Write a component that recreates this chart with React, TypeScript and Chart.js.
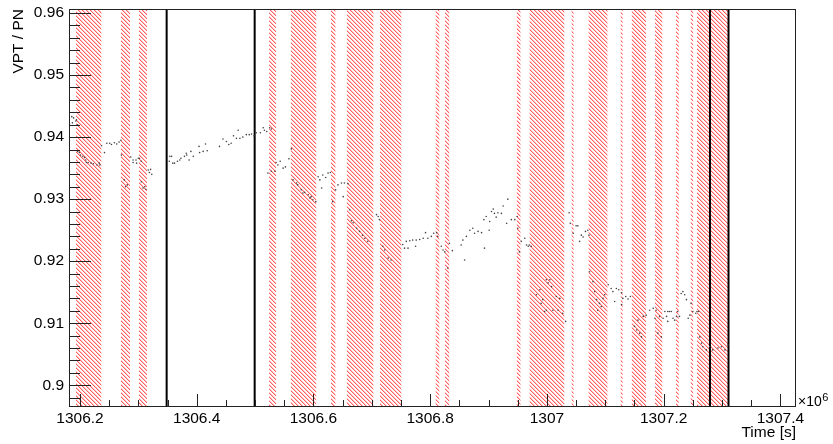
import { useEffect, useRef } from 'react';
import { Chart, registerables } from 'chart.js';

Chart.register(...registerables);

// Axis ranges (time in units of 10^6 s)
const X_MIN = 1306.1812;
const X_MAX = 1307.4267;
const Y_MIN = 0.89666;
const Y_MAX = 0.96065;

const xMajorTicks = [1306.2, 1306.4, 1306.6, 1306.8, 1307.0, 1307.2, 1307.4];
const yMajorTicks = [0.9, 0.91, 0.92, 0.93, 0.94, 0.95, 0.96];
const X_MINOR_STEP = 0.05;
const Y_MINOR_STEP = 0.002;

// Hatched (excluded) time intervals
const bandStarts = [1306.193, 1306.270, 1306.301, 1306.524, 1306.561, 1306.630, 1306.657, 1306.714, 1306.809, 1306.825, 1306.948, 1306.970, 1307.042, 1307.071, 1307.126, 1307.145, 1307.185, 1307.221, 1307.246, 1307.257];
const bandEnds = [1306.237, 1306.286, 1306.315, 1306.536, 1306.605, 1306.638, 1306.703, 1306.751, 1306.816, 1306.833, 1306.955, 1307.030, 1307.046, 1307.104, 1307.130, 1307.170, 1307.198, 1307.226, 1307.251, 1307.311];

// Vertical black marker lines
const markerTimes = [1306.3485, 1306.4993, 1307.2793, 1307.3111];

// Measured points
const timeValues = [
  1306.182, 1306.186, 1306.187, 1306.189, 1306.193, 1306.194, 1306.196,
  1306.196, 1306.199, 1306.201, 1306.205, 1306.208, 1306.210, 1306.211, 1306.214, 1306.219, 1306.223, 1306.229, 1306.233, 1306.234,
  1306.237, 1306.242, 1306.246, 1306.251, 1306.254, 1306.259, 1306.263, 1306.267, 1306.270,
  1306.271, 1306.276, 1306.278, 1306.281, 1306.287, 1306.291, 1306.291, 1306.296, 1306.297, 1306.300, 1306.302, 1306.305, 1306.305, 1306.308, 1306.311, 1306.313, 1306.317, 1306.319, 1306.321, 1306.323,
  1306.353, 1306.354, 1306.357, 1306.359, 1306.362, 1306.367, 1306.371, 1306.373, 1306.379, 1306.382, 1306.383, 1306.387, 1306.390, 1306.394, 1306.404, 1306.405, 1306.411, 1306.415, 1306.418, 1306.439, 1306.445, 1306.451, 1306.455, 1306.459, 1306.463, 1306.468, 1306.471, 1306.474, 1306.479, 1306.485, 1306.490, 1306.494, 1306.498, 1306.502, 1306.509, 1306.514, 1306.516, 1306.520, 1306.525, 1306.528,
  1306.522, 1306.528, 1306.534, 1306.536, 1306.539, 1306.543, 1306.548, 1306.552, 1306.558, 1306.562,
  1306.565, 1306.571, 1306.573, 1306.579, 1306.582, 1306.585, 1306.591, 1306.594, 1306.596, 1306.599, 1306.604,
  1306.608, 1306.611, 1306.614, 1306.616, 1306.621, 1306.625, 1306.629, 1306.633, 1306.638, 1306.642, 1306.648, 1306.651, 1306.653, 1306.659,
  1306.662, 1306.665, 1306.668, 1306.674, 1306.679, 1306.684, 1306.688, 1306.693, 1306.708, 1306.711, 1306.713, 1306.719, 1306.722, 1306.728, 1306.733,
  1306.753, 1306.756, 1306.759, 1306.762, 1306.765, 1306.770, 1306.775, 1306.776, 1306.782, 1306.788, 1306.792, 1306.796, 1306.802, 1306.806,
  1306.811, 1306.813, 1306.819, 1306.822, 1306.825, 1306.830, 1306.833, 1306.838, 1306.853, 1306.856, 1306.859, 1306.862, 1306.868, 1306.873, 1306.876, 1306.882, 1306.888, 1306.892, 1306.893, 1306.896, 1306.901, 1306.902, 1306.905, 1306.908, 1306.910, 1306.913, 1306.916, 1306.922, 1306.925, 1306.931, 1306.933, 1306.939, 1306.945, 1306.949, 1306.950, 1306.953, 1306.956, 1306.962, 1306.965, 1306.968, 1306.970, 1306.973,
  1306.982, 1306.988, 1306.990, 1306.993, 1306.996, 1306.999, 1306.999, 1307.002, 1307.005, 1307.008, 1307.010, 1307.016, 1307.019, 1307.022, 1307.027, 1307.032,
  1307.038, 1307.040, 1307.045, 1307.050, 1307.053, 1307.056, 1307.059, 1307.062, 1307.066, 1307.070, 1307.072,
  1307.073, 1307.079, 1307.082, 1307.085, 1307.087, 1307.090, 1307.093, 1307.096, 1307.099, 1307.105, 1307.110, 1307.113, 1307.116, 1307.119, 1307.123, 1307.128, 1307.128, 1307.130, 1307.135, 1307.139, 1307.143,
  1307.150, 1307.154, 1307.156, 1307.159, 1307.162, 1307.165, 1307.170, 1307.176, 1307.182, 1307.185, 1307.187, 1307.190, 1307.193, 1307.196, 1307.199,
  1307.202, 1307.205, 1307.207, 1307.207, 1307.210, 1307.213, 1307.216, 1307.219, 1307.222, 1307.224, 1307.227, 1307.230, 1307.233, 1307.236, 1307.239, 1307.242, 1307.245, 1307.247, 1307.250, 1307.255, 1307.257, 1307.260,
  1307.262, 1307.265, 1307.267, 1307.273, 1307.279, 1307.284, 1307.293, 1307.299, 1307.305, 1307.310,
];

const ratioValues = [
  0.9421, 0.9433, 0.9423, 0.9431, 0.9426, 0.9428, 0.9420,
  0.9377, 0.9375, 0.9371, 0.9369, 0.9367, 0.9363, 0.9359, 0.9359, 0.9358, 0.9357, 0.9355, 0.9358, 0.9355,
  0.9386, 0.9375, 0.9390, 0.9390, 0.9388, 0.9391, 0.9389, 0.9392, 0.9395,
  0.9371, 0.9331, 0.9320, 0.9323, 0.9368, 0.9363, 0.9359, 0.9363, 0.9358, 0.9366, 0.9366, 0.9361, 0.9328, 0.9318, 0.9320, 0.9316, 0.9347, 0.9343, 0.9348, 0.9340,
  0.9361, 0.9369, 0.9369, 0.9358, 0.9358, 0.9361, 0.9363, 0.9366, 0.9369, 0.9374, 0.9371, 0.9363, 0.9377, 0.9369, 0.9385, 0.9375, 0.9377, 0.9389, 0.9378, 0.9385, 0.9397, 0.9393, 0.9388, 0.9390, 0.9402, 0.9398, 0.9411, 0.9398, 0.9400, 0.9404, 0.9404, 0.9405, 0.9402, 0.9407, 0.9407, 0.9415, 0.9411, 0.9409, 0.9415, 0.9413,
  0.9342, 0.9345, 0.9345, 0.9359, 0.9355, 0.9361, 0.9350, 0.9352, 0.9365, 0.9381,
  0.9331, 0.9326, 0.9323, 0.9315, 0.9310, 0.9311, 0.9307, 0.9302, 0.9304, 0.9299, 0.9296,
  0.9336, 0.9331, 0.9318, 0.9339, 0.9335, 0.9342, 0.9343, 0.9296, 0.9315, 0.9323, 0.9326, 0.9304, 0.9326, 0.9325,
  0.9283, 0.9265, 0.9262, 0.9253, 0.9248, 0.9242, 0.9237, 0.9232, 0.9275, 0.9272, 0.9267, 0.9224, 0.9218, 0.9205, 0.9202,
  0.9227, 0.9221, 0.9232, 0.9221, 0.9233, 0.9234, 0.9224, 0.9234, 0.9235, 0.9237, 0.9246, 0.9237, 0.9240, 0.9245,
  0.9246, 0.9240, 0.9224, 0.9218, 0.9215, 0.9189, 0.9229, 0.9217, 0.9226, 0.9234, 0.9202, 0.9240, 0.9250, 0.9253, 0.9245, 0.9248, 0.9246, 0.9267, 0.9221, 0.9272, 0.9250, 0.9264, 0.9280, 0.9284, 0.9277, 0.9271, 0.9278, 0.9277, 0.9289, 0.9261, 0.9300, 0.9267, 0.9267, 0.9272, 0.9253, 0.9215, 0.9232, 0.9237, 0.9226, 0.9224, 0.9226, 0.9224,
  0.9146, 0.9154, 0.9132, 0.9138, 0.9119, 0.9170, 0.9121, 0.9165, 0.9170, 0.9159, 0.9121, 0.9143, 0.9121, 0.9140, 0.9116, 0.9103,
  0.9278, 0.9261, 0.9245, 0.9257, 0.9257, 0.9232, 0.9242, 0.9239, 0.9248, 0.9250, 0.9242,
  0.9183, 0.9167, 0.9151, 0.9138, 0.9121, 0.9132, 0.9127, 0.9140, 0.9146, 0.9162, 0.9156, 0.9151, 0.9135, 0.9156, 0.9154, 0.9149, 0.9130, 0.9140, 0.9143, 0.9139, 0.9143,
  0.9095, 0.9089, 0.9105, 0.9084, 0.9078, 0.9111, 0.9113, 0.9121, 0.9124, 0.9108, 0.9121, 0.9084, 0.9111, 0.9078, 0.9108,
  0.9119, 0.9111, 0.9119, 0.9103, 0.9119, 0.9119, 0.9108, 0.9105, 0.9111, 0.9119, 0.9111, 0.9148, 0.9151, 0.9146, 0.9138, 0.9108, 0.9113, 0.9132, 0.9119, 0.9116, 0.9119, 0.9119,
  0.9078, 0.9068, 0.9062, 0.9057, 0.9062, 0.9057, 0.9060, 0.9062, 0.9057, 0.9065,
];

const FONT = "'Liberation Sans', Arial, Helvetica, sans-serif";

const fmt = (v: number) => String(Number(v.toFixed(4)));

const rootFramePlugin = {
  id: 'rootFrame',
  afterDraw(chart: any) {
    const { ctx, chartArea, scales } = chart;
    const { left, right, top, bottom } = chartArea;
    const xs = scales.x;
    const ys = scales.y;
    ctx.save();
    ctx.strokeStyle = '#222';
    ctx.lineWidth = 1;
    ctx.beginPath();
    // y ticks (inward from left frame)
    const kyMin = Math.ceil(Y_MIN / Y_MINOR_STEP - 1e-6);
    const kyMax = Math.floor(Y_MAX / Y_MINOR_STEP + 1e-6);
    for (let k = kyMin; k <= kyMax; k++) {
      const v = k * Y_MINOR_STEP;
      const major = yMajorTicks.some((m) => Math.abs(m - v) < 1e-6);
      const py = Math.round(ys.getPixelForValue(v)) + 0.5;
      ctx.moveTo(left, py);
      ctx.lineTo(left + (major ? 22 : 11), py);
    }
    // x ticks (inward from bottom frame)
    const kxMin = Math.ceil(X_MIN / X_MINOR_STEP - 1e-6);
    const kxMax = Math.floor(X_MAX / X_MINOR_STEP + 1e-6);
    for (let k = kxMin; k <= kxMax; k++) {
      const v = k * X_MINOR_STEP;
      const major = xMajorTicks.some((m) => Math.abs(m - v) < 1e-6);
      const px = Math.round(xs.getPixelForValue(v)) + 0.5;
      ctx.moveTo(px, bottom);
      ctx.lineTo(px, bottom - (major ? 12 : 6));
    }
    ctx.stroke();
    // frame
    ctx.strokeStyle = '#222';
    ctx.strokeRect(left + 0.5, top + 0.5, right - left - 1, bottom - top);
    // x10^6 multiplier
    ctx.fillStyle = '#000';
    ctx.textBaseline = 'alphabetic';
    ctx.textAlign = 'left';
    ctx.font = `14px ${FONT}`;
    ctx.fillText('\u00d710', right + 2, bottom);
    const w = ctx.measureText('\u00d710').width;
    ctx.font = `11px ${FONT}`;
    ctx.fillText('6', right + 2 + w + 0.5, bottom - 5);
    ctx.restore();
  },
};

export default function App() {
  const canvasRef = useRef<HTMLCanvasElement | null>(null);

  useEffect(() => {
    const canvas = canvasRef.current;
    if (!canvas) return;
    const ctx = canvas.getContext('2d')!;

    // ROOT-like "\\\\" hatch tile, drawn pixel by pixel
    const pc = document.createElement('canvas');
    pc.width = 4;
    pc.height = 4;
    const p = pc.getContext('2d')!;
    for (let i = 0; i < 4; i++) {
      p.fillStyle = 'rgb(255,95,95)';
      p.fillRect(i, i, 1, 1);
      p.fillStyle = 'rgb(255,195,195)';
      p.fillRect((i + 1) % 4, i, 1, 1);
    }
    const hatch = ctx.createPattern(pc, 'repeat')!;

    const bandDatasets = bandStarts.map((s, i) => ({
      type: 'line' as const,
      data: [
        { x: s, y: Y_MAX },
        { x: bandEnds[i], y: Y_MAX },
      ],
      fill: 'start',
      backgroundColor: hatch,
      borderColor: 'rgba(0,0,0,0)',
      borderWidth: 0,
      pointRadius: 0,
      order: 3,
    }));

    const markerDatasets = markerTimes.map((t) => ({
      type: 'line' as const,
      data: [
        { x: t, y: Y_MIN },
        { x: t, y: Y_MAX },
      ],
      borderColor: '#000',
      borderWidth: 2,
      pointRadius: 0,
      fill: false,
      order: 2,
    }));

    const pointsDataset = {
      type: 'scatter' as const,
      data: timeValues.map((t, i) => ({ x: t, y: ratioValues[i] })),
      pointRadius: 0.8,
      pointBackgroundColor: '#444',
      pointBorderWidth: 0,
      backgroundColor: '#444',
      borderWidth: 0,
      order: 1,
    };

    const chart = new Chart(ctx, {
      type: 'line',
      data: { datasets: [pointsDataset, ...markerDatasets, ...bandDatasets] as any },
      options: {
        animation: false,
        responsive: false,
        events: [],
        layout: { padding: { top: 9, right: 37, left: 0, bottom: 0 } },
        plugins: { legend: { display: false }, tooltip: { enabled: false } },
        scales: {
          x: {
            type: 'linear',
            min: X_MIN,
            max: X_MAX,
            grid: { display: false, drawTicks: false },
            border: { display: false },
            afterBuildTicks: (scale: any) => {
              scale.ticks = xMajorTicks.map((v) => ({ value: v }));
            },
            afterFit: (scale: any) => {
              scale.height = 38;
              scale.paddingLeft = 0;
              scale.paddingRight = 0;
            },
            ticks: {
              autoSkip: false,
              maxRotation: 0,
              minRotation: 0,
              padding: 3,
              color: '#000',
              font: { family: FONT, size: 15.5 },
              callback: (v: any) => fmt(Number(v)),
            },
            title: {
              display: true,
              text: 'Time [s]',
              align: 'end',
              color: '#000',
              font: { family: FONT, size: 15.5 },
              padding: { top: 0, bottom: 2 },
            },
          },
          y: {
            type: 'linear',
            min: Y_MIN,
            max: Y_MAX,
            grid: { display: false, drawTicks: false },
            border: { display: false },
            afterBuildTicks: (scale: any) => {
              scale.ticks = yMajorTicks.map((v) => ({ value: v }));
            },
            afterFit: (scale: any) => {
              scale.width = 69;
              scale.paddingTop = 0;
              scale.paddingBottom = 0;
            },
            ticks: {
              autoSkip: false,
              padding: 5,
              color: '#000',
              font: { family: FONT, size: 15.5 },
              callback: (v: any) => fmt(Number(v)),
            },
            title: {
              display: true,
              text: 'VPT / PN',
              align: 'end',
              color: '#000',
              font: { family: FONT, size: 15.5 },
              padding: { top: 9, bottom: 0 },
            },
          },
        },
      } as any,
      plugins: [rootFramePlugin],
    });

    return () => chart.destroy();
  }, []);

  return (
    <div style={{ position: 'absolute', left: 0, top: 0, width: 833, height: 444, background: '#fff' }}>
      <canvas ref={canvasRef} width={833} height={444} style={{ display: 'block', width: 833, height: 444 }} />
    </div>
  );
}
